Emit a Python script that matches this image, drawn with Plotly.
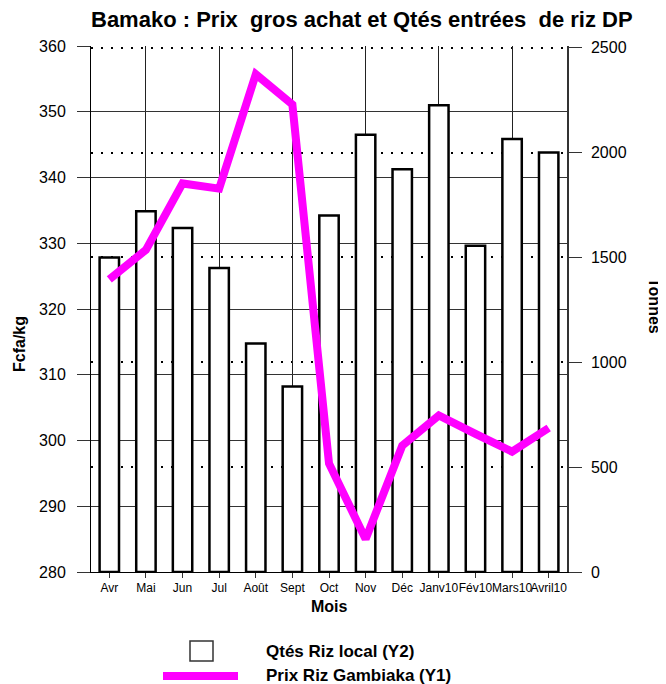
import plotly.graph_objects as go

# ---- data ----
months = ["Avr", "Mai", "Jun", "Jul", "Août", "Sept", "Oct", "Nov", "Déc",
          "Janv10", "Fév10", "Mars10", "Avril10"]
qtes_riz_local = [1500, 1720, 1640, 1450, 1090, 885, 1700, 2085, 1920, 2225, 1555, 2065, 2000]
prix_gambiaka = [324.5, 329.0, 339.1, 338.3, 355.7, 351.1, 296.5, 285.0, 299.2, 303.8, 301.0, 298.3, 301.9]
left_ticks = [280, 290, 300, 310, 320, 330, 340, 350, 360]
right_ticks = [0, 500, 1000, 1500, 2000, 2500]

title_text = "Bamako : Prix\u00a0\u00a0gros achat et Qtés entrées\u00a0\u00a0de riz DP"
name_bar = "Qtés Riz local (Y2)"
name_line = "Prix Riz Gambiaka (Y1)"

# the page body has an 8px margin: the figure starts at (8, 8) in the window
OFF = 8
WIN_W, WIN_H = 666, 684
W, H = WIN_W - OFF, WIN_H - OFF
# plot area in window pixels: x 91..567, y 46..572
PL, PR, PT, PB = 91, 567, 46, 572
L, T = PL - OFF, PT - OFF
R, B = W - (PR - OFF), H - (PB - OFF)
PW, PH = PR - PL, PB - PT

def px_x(x):   # window pixel -> paper
    return (x - PL) / PW

def px_y(y):
    return (PB - y) / PH

xpos = list(range(len(months)))
FONT = "Liberation Sans, Arial, sans-serif"

fig = go.Figure()
fig.add_trace(go.Bar(
    x=xpos, y=qtes_riz_local, name=name_bar, xaxis="x", yaxis="y",
    width=0.53, marker=dict(color="white", line=dict(color="black", width=2.5)),
    showlegend=False,
))
fig.add_trace(go.Scatter(
    x=xpos, y=prix_gambiaka, name=name_line, xaxis="x2", yaxis="y2",
    mode="lines", line=dict(color="#FF00FF", width=8), showlegend=False,
))

fig.update_layout(
    width=W, height=H,
    margin=dict(l=L, r=R, t=T, b=B, autoexpand=False),
    paper_bgcolor="white", plot_bgcolor="white",
    font=dict(family=FONT, color="black"),
    xaxis=dict(
        range=[-0.5, len(months) - 0.5], tickmode="array", tickvals=xpos, ticktext=months,
        tickangle=0,
        ticks="outside", ticklen=5, tickcolor="#333", showgrid=False, zeroline=False,
        showline=True, linecolor="black", linewidth=1,
        tickfont=dict(size=12, family=FONT),
    ),
    xaxis2=dict(
        overlaying="x", anchor="y", side="bottom",
        range=[-0.5, len(months) - 0.5], tickmode="array", tickvals=xpos[1::2],
        showticklabels=False, ticks="", showgrid=True, gridcolor="#222", gridwidth=1,
        zeroline=False, showline=False,
    ),
    yaxis=dict(
        side="right", range=[0, 2508], tickmode="array", tickvals=right_ticks,
        ticks="outside", ticklen=13, tickcolor="#333", ticklabelstandoff=6,
        showgrid=True, gridcolor="black", gridwidth=2, griddash="2px,8px",
        zeroline=False, showline=True, linecolor="#333", linewidth=1.5,
        tickfont=dict(size=16, family=FONT),
    ),
    yaxis2=dict(
        overlaying="y", side="left", anchor="x", range=[280, 360], tickmode="array",
        tickvals=left_ticks, ticks="outside", ticklen=13, tickcolor="#333",
        ticklabelstandoff=8,
        showgrid=True, gridcolor="#333", gridwidth=1, zeroline=False,
        showline=True, linecolor="black", linewidth=1,
        tickfont=dict(size=16, family=FONT),
    ),
)

ann = [
    dict(text="<b>" + title_text + "</b>", x=px_x(362), y=px_y(20), xanchor="center",
         yanchor="middle", font=dict(size=22)),
    dict(text="<b>Mois</b>", x=px_x(329), y=px_y(606), xanchor="center", yanchor="middle",
         font=dict(size=16)),
    dict(text="<b>Fcfa/kg</b>", x=px_x(19), y=px_y(344), xanchor="center", yanchor="middle",
         textangle=-90, font=dict(size=16)),
    dict(text="<b>Tonnes</b>", x=px_x(655), y=px_y(306), xanchor="center", yanchor="middle",
         textangle=90, font=dict(size=16)),
    dict(text="<b>" + name_bar + "</b>", x=px_x(264), y=px_y(651), xanchor="left",
         yanchor="middle", font=dict(size=17)),
    dict(text="<b>" + name_line + "</b>", x=px_x(264), y=px_y(675), xanchor="left",
         yanchor="middle", font=dict(size=17)),
]
for a in ann:
    a.update(xref="paper", yref="paper", showarrow=False)
fig.update_layout(annotations=ann)

# legend keys
fig.add_shape(type="rect", xref="paper", yref="paper",
              x0=px_x(190), x1=px_x(213), y0=px_y(661), y1=px_y(641),
              line=dict(color="#333", width=1.5), fillcolor="white")
fig.add_shape(type="line", xref="paper", yref="paper",
              x0=px_x(163), x1=px_x(238), y0=px_y(676), y1=px_y(676),
              line=dict(color="#FF00FF", width=8))

fig.write_html("out.html")
